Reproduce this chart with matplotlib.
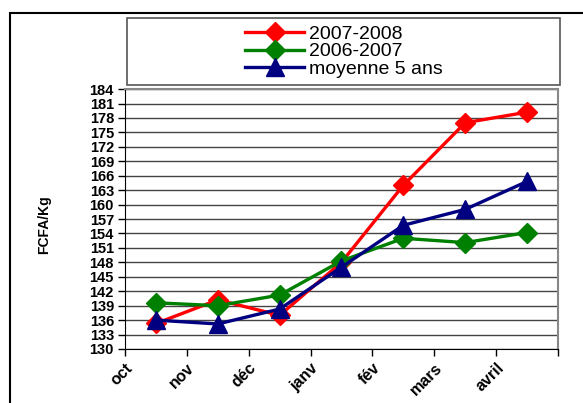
import matplotlib
matplotlib.use("Agg")
import matplotlib.pyplot as plt
from matplotlib.patches import Rectangle

plt.rcParams['font.family'] = ['Liberation Sans', 'DejaVu Sans']

months = ["oct", "nov", "déc", "janv", "fév", "mars", "avril"]
prix_2007_2008 = [135.3, 140.2, 137.0, 148.0, 164.0, 177.0, 179.2]
prix_2006_2007 = [139.6, 139.0, 141.2, 148.3, 153.0, 152.1, 154.2]
moyenne_5ans = [136.0, 135.2, 138.3, 147.0, 155.7, 159.0, 164.8]
yticks = list(range(130, 185, 3))

fig = plt.figure(figsize=(5.83, 4.03), dpi=100)
ax = fig.add_axes([0.2144, 0.134, 0.7426, 0.645])

x = [i + 0.5 for i in range(len(months))]
l1, = ax.plot(x, prix_2007_2008, color="#FF0000", lw=2.4, marker="D", ms=10, label="2007-2008")
l2, = ax.plot(x, prix_2006_2007, color="#008000", lw=2.4, marker="D", ms=10, label="2006-2007")
l3, = ax.plot(x, moyenne_5ans, color="#000080", lw=2.4, marker="^", ms=13, label="moyenne 5 ans")

ax.set_xlim(0, len(months))
ax.set_ylim(130, 184)
ax.set_yticks(yticks)
ax.set_yticklabels([str(v) for v in yticks], fontsize=10.5, fontweight="bold")
ax.set_xticks(range(len(months) + 1))
ax.set_xticklabels(months + [""], rotation=45, ha="right", rotation_mode="anchor",
                   fontsize=11.5, fontweight="bold")
ax.tick_params(axis="both", direction="out", length=5, width=1, color="black", pad=3)
ax.yaxis.grid(True, color="#444444", lw=1)
ax.set_axisbelow(True)
for side in ["top", "right"]:
    ax.spines[side].set_color("#888888")
    ax.spines[side].set_linewidth(1.5)
for side in ["left", "bottom"]:
    ax.spines[side].set_color("black")

ax.set_ylabel("FCFA/Kg", fontsize=10, fontweight="bold")
ax.yaxis.set_label_coords(-0.17, 0.477)

# legend box
fig.patches.append(Rectangle((0.218, 0.789), 0.743, 0.166, transform=fig.transFigure,
                             fill=False, edgecolor="#555555", lw=1.2))
fig.legend(handles=[l1, l2, l3], loc="center", bbox_to_anchor=(0.59, 0.872),
           frameon=False, fontsize=14, labelspacing=0.0, handlelength=3.0,
           handletextpad=0.25, borderpad=0)

# outer border
fig.patches.append(Rectangle((10 / 583, -0.1), 1.2, 1 - 13 / 403 + 0.1,
                             transform=fig.transFigure, fill=False,
                             edgecolor="black", lw=1.5, clip_on=False))

fig.savefig("out.png", dpi=100)
